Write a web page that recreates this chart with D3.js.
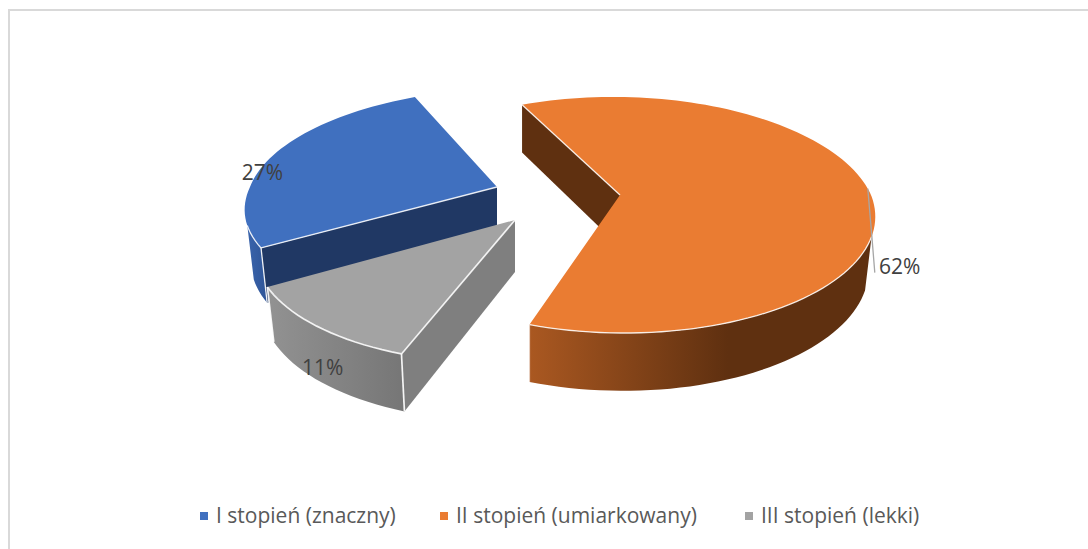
<!DOCTYPE html>
<html lang="pl"><head><meta charset="utf-8">
<script src="https://cdnjs.cloudflare.com/ajax/libs/d3/7.8.5/d3.min.js"></script>
<style>html,body{margin:0;padding:0;background:#fff;overflow:hidden}svg{display:block}</style>
</head><body><svg id="c" width="1088" height="549"></svg>
<script>
const categories = ["I stopień (znaczny)", "II stopień (umiarkowany)", "III stopień (lekki)"];
const shares = [27, 62, 11];
const shareLabels = ["27%", "62%", "11%"];
const topColors = ["#4070bf", "#ea7c32", "#a3a3a3"];
const edgeColors = ["#203864", "#5f3010", "#7f7f7f"];
const firstSliceAngle = 238;

// projection layout, one entry per slice
const Rxs = [247, 251, 251], Rys = [108.6, 114.7, 111.7], persps = [0.106, 0.169, 0.22];
const apexes = [[497, 187], [620, 195], [515, 220]];
const shears = [-0.23, 0.03, -0.1];
const backShears = [0.092, 0.044, 0];
const convergeLeft = [0.026, 0, 0.026];
const convergeRight = 0.026;
const depth = 52, depthPersp = 0.1;
const labelOffsets = [[-9, 15], [32, 77], [6, 41]];
const wallLimit = [110, 250];
const edgeWidths = [1.3, 1.3, 1.7];
const rad = Math.PI / 180, deg = 180 / Math.PI;

const svg = d3.select("#c");
const defs = svg.append("defs");
function grad(id, stops) {
  const g = defs.append("linearGradient").attr("id", id).attr("x1", 0).attr("x2", 1).attr("y1", 0).attr("y2", 0);
  stops.forEach(s => g.append("stop").attr("offset", s[0]).attr("stop-color", s[1]));
}
grad("w0", [[0, "#3a64ac"], [1, "#2f5597"]]);
grad("w1", [[0, "#aa5821"], [0.58, "#5f3010"], [1, "#5f3010"]]);
grad("w2", [[0, "#929292"], [1, "#767676"]]);

svg.append("path").attr("d", "M9,549V10H1088").attr("fill", "none").attr("stroke", "#d9d9d9").attr("stroke-width", 2);

const pie = d3.pie().sort(null).startAngle(firstSliceAngle * rad).endAngle((firstSliceAngle + 360) * rad);
const arcs = pie(shares);
const uScales = Rxs.map(R => d3.scaleLinear().domain([-1, 1]).range([-R, R]));
const vScales = Rys.map(R => d3.scaleLinear().domain([-1, 1]).range([-R, R]));

function proj(i, aDeg, r, low) {
  const u = r * Math.sin(aDeg * rad), v = -r * Math.cos(aDeg * rad);
  const w = 1 - persps[i] * v;
  const dy = vScales[i](v) / w;
  const dx = uScales[i](u) / w + shears[i] * dy + backShears[i] * Math.min(dy, 0);
  let x = apexes[i][0] + dx, y = apexes[i][1] + dy;
  if (low) { y += depth / (1 - depthPersp * v); x -= (dx < 0 ? convergeLeft[i] : convergeRight) * dx; }
  return [x, y];
}
const line = d3.line();
function arcPts(i, a0, a1, low) {
  const n = Math.max(2, Math.ceil(Math.abs(a1 - a0) / 2));
  return d3.range(n + 1).map(k => proj(i, a0 + (a1 - a0) * k / n, 1, low));
}
function drawSlice(i) {
  const a0 = arcs[i].startAngle * deg, a1 = arcs[i].endAngle * deg;
  const g = svg.append("g");
  const e = [proj(i, a0, 0, false), proj(i, a0, 1, false), proj(i, a0, 1, true), proj(i, a0, 0, true)];
  const rims = [], verticals = [];
  for (let t = 0; t < 2; t++) {
    const s = Math.max(a0, wallLimit[0] + 360 * t), f = Math.min(a1, wallLimit[1] + 360 * t);
    if (f <= s) continue;
    const top = arcPts(i, s, f, false), bot = arcPts(i, f, s, true);
    g.append("path").attr("d", line(top.concat(bot)) + "Z").attr("fill", `url(#w${i})`);
    rims.push(top);
    [s, f].forEach(a => {
      if (Math.abs(a - a0) < 1e-6 || Math.abs(a - a1) < 1e-6) verticals.push(a);
    });
  }
  g.append("path").attr("d", line(e) + "Z").attr("fill", edgeColors[i]);
  const top = [proj(i, a0, 0, false)].concat(arcPts(i, a0, a1, false));
  g.append("path").attr("d", line(top) + "Z").attr("fill", topColors[i]);
  const light = pts => g.append("path").attr("d", line(pts)).attr("fill", "none")
    .attr("stroke", "#fff").attr("stroke-width", edgeWidths[i]).attr("stroke-opacity", 0.85);
  rims.forEach(light);
  light([proj(i, a0, 0, false), proj(i, a0, 1, false)]);
  verticals.forEach(a => light([proj(i, a, 1, false), proj(i, a, 1, true)]).attr("stroke-opacity", i === 1 ? 0.4 : 0.9));
}
[0, 1, 2].forEach(drawSlice);

const font = "'Open Sans', sans-serif";
arcs.forEach((d, i) => {
  const mid = (d.startAngle + d.endAngle) / 2 * deg;
  const p = proj(i, mid, 1, false);
  const lx = p[0] + labelOffsets[i][0], ly = p[1] + labelOffsets[i][1];
  if (i === 1) {
    svg.append("path").attr("d", line([p, [p[0] + 4, p[1] + 47], [p[0] + 7, p[1] + 84]]))
      .attr("fill", "none").attr("stroke", "#a6a6a6").attr("stroke-width", 1.3);
  }
  svg.append("text").attr("x", lx).attr("y", ly).attr("text-anchor", "middle").attr("dominant-baseline", "central")
    .attr("font-family", font).attr("font-size", 21).attr("fill", "#404040").text(shareLabels[i]);
});

const legendPos = [200, 440, 745];
categories.forEach((c, i) => {
  svg.append("rect").attr("x", legendPos[i]).attr("y", 512).attr("width", 8).attr("height", 8).attr("fill", topColors[i]);
  svg.append("text").attr("x", legendPos[i] + 16).attr("y", 523).attr("font-family", font).attr("font-size", 21)
    .attr("fill", "#595959").text(c);
});
</script></body></html>
